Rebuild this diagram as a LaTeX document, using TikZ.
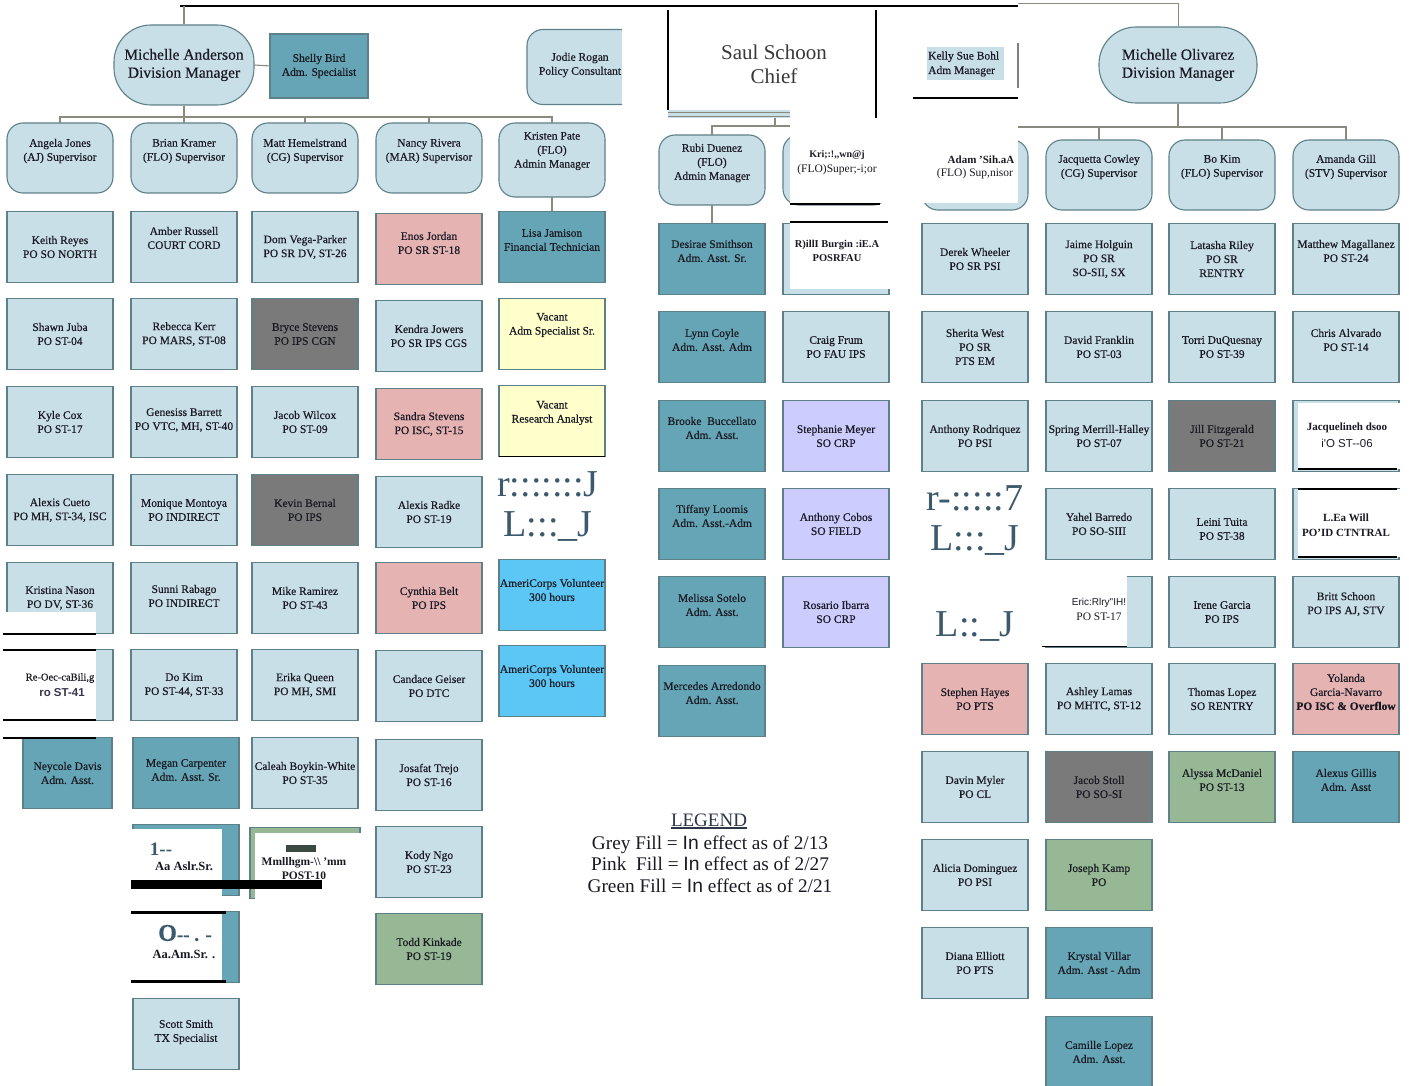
\documentclass[tikz,border=0pt]{standalone}
\usepackage{fontspec}
\setmainfont{Liberation Serif}
\newfontfamily\sansf{Liberation Sans}
\newfontfamily\boxf[FakeBold=0.45]{Liberation Serif}
\definecolor{lblue}{HTML}{C9DFE7}
\definecolor{bord}{HTML}{5E8189}
\definecolor{tealf}{HTML}{65A5B5}
\definecolor{greyf}{HTML}{7A7A7A}
\definecolor{pinkf}{HTML}{E6B3B3}
\definecolor{greenf}{HTML}{96B894}
\definecolor{yellowf}{HTML}{FFFFCC}
\definecolor{brightb}{HTML}{5CC6F5}
\definecolor{lavf}{HTML}{CCCCFF}
\definecolor{garbc}{HTML}{3C5A6E}
\definecolor{txtc}{HTML}{1A1A24}
\definecolor{connc}{HTML}{8A8A7E}
\definecolor{legc}{HTML}{2C3848}
\definecolor{darkbar}{HTML}{3A4A40}
\definecolor{purpt}{HTML}{3A3450}
\tikzset{
 bx/.style={draw=bord, line width=1.1pt, minimum width=106pt, minimum height=71pt, inner sep=0pt, outer sep=0pt},
 bLB/.style={bx, fill=lblue},
 bTL/.style={bx, fill=tealf},
 bGR/.style={bx, fill=greyf},
 bPK/.style={bx, fill=pinkf},
 bGN/.style={bx, fill=greenf},
 bYL/.style={bx, fill=yellowf},
 bBB/.style={bx, fill=brightb},
 bLV/.style={bx, fill=lavf},
 sup/.style={bx, fill=lblue, minimum height=70pt, rounded corners=16pt},
 dmgr/.style={draw=bord, line width=1.1pt, fill=lblue, rounded corners=37pt, align=center, font=\boxf\fontsize{15.5}{18}\selectfont, text=txtc, inner sep=0pt},
 txt/.style={align=center, font=\boxf\fontsize{11.5}{14}\selectfont, text=txtc, inner sep=0pt},
 oddtxt/.style={txt, font=\bfseries\fontsize{10.5}{14}\selectfont},
 conn/.style={draw=connc, line width=1.1pt},
 blk/.style={draw=black, line width=1.6pt},
 garb/.style={text=garbc, font=\fontsize{38}{30}\selectfont, inner sep=0pt, text height=20pt, text depth=0pt}
}
\newcommand\obox[6][0]{%
  \node[#2] (#3) at (#4,#5) {};
  \node[txt] (#3-t) at ({#4},{#5+(#1)}) {#6};}
\begin{document}
\begin{tikzpicture}[x=1pt,y=-1pt]
\useasboundingbox (0,0) rectangle (1409,1086);
\fill[white] (0,0) rectangle (1409,1086);

% ---------- top lines
\coordinate (topL) at (180,6);
\coordinate (topM) at (1018,6);
\coordinate (topR) at (1018,3);
\draw[line width=2.2pt] (topL) -- (topM);

% ---------- left division
\node[dmgr, minimum width=140pt, minimum height=80pt] (ma) at (184,65) {Michelle Anderson\\Division Manager};
\draw[conn] (ma.north) -- (ma.north |- topL);
\obox{bTL, minimum width=98pt, minimum height=64pt}{sb}{319}{66}{Shelly Bird\\Adm. Specialist}
\draw[conn] (ma.east) -- (sb.west);

\begin{scope}
\clip (520,20) rectangle (622,112);
\obox{sup, minimum width=130pt, minimum height=75pt}{jr}{592}{67}{}
\node[txt] (jr-t2) at (580,65) {Jodie Rogan\\Policy Consultant};
\end{scope}

\obox[-7]{sup}{aj}{60}{158}{Angela Jones\\(AJ) Supervisor}
\obox[-7]{sup}{bk}{184}{158}{Brian Kramer\\(FLO) Supervisor}
\obox[-7]{sup}{mh}{305}{158}{Matt Hemelstrand\\(CG) Supervisor}
\obox[-7]{sup}{nr}{429}{158}{Nancy Rivera\\(MAR) Supervisor}
\obox[-9]{sup, minimum height=74pt}{kp}{552}{160}{Kristen Pate\\(FLO)\\Admin Manager}
\coordinate (busL) at (184,117);
\draw[conn] (ma.south) -- (busL);
\draw[conn] (aj.north) -- (aj.north |- busL) -- (kp.north |- busL) -- (kp.north);
\foreach \n in {bk,mh,nr} \draw[conn] (\n.north) -- (\n.north |- busL);

% column 1
\obox{bLB}{kre}{60}{247}{Keith Reyes\\PO SO NORTH}
\obox{bLB}{sj}{60}{334}{Shawn Juba\\PO ST-04}
\obox{bLB}{kc}{60}{422}{Kyle Cox\\PO ST-17}
\obox{bLB}{acu}{60}{510}{Alexis Cueto\\PO MH, ST-34, ISC}
\obox{bLB}{kn}{60}{598}{Kristina Nason\\PO DV, ST-36}
\fill[white] (3,612) rectangle (96,634);
\draw[blk, line width=1.3pt] (3,634) -- (96,634);
\node[bLB] (rob) at (60,685) {};
\fill[white] (3,650) rectangle (96,721);
\draw[blk, line width=1.3pt] (3,650) -- (96,650) (3,720) -- (96,720);
\node[txt, font=\boxf\fontsize{10.5}{14}\selectfont] (rob-t1) at (60,678) {Re-Oec-caBili,g};
\node[txt, font=\sansf\bfseries\fontsize{11.5}{14}\selectfont, text=purpt] (rob-t2) at (62,693) {ro ST-41};
\obox{bTL, minimum width=89pt}{nd}{67.5}{773}{Neycole Davis\\Adm. Asst.}
\draw[blk, line width=2.6pt] (3,738) -- (96,738);

% column 2
\obox[-9]{bLB}{ar}{184}{247}{Amber Russell\\COURT CORD}
\obox{bLB}{rk}{184}{334}{Rebecca Kerr\\PO MARS, ST-08}
\obox[-2]{bLB}{gb}{184}{422}{Genesiss Barrett\\PO VTC, MH, ST-40}
\obox{bLB}{mmo}{184}{510}{Monique Montoya\\PO INDIRECT}
\obox[-2]{bLB}{sra}{184}{598}{Sunni Rabago\\PO INDIRECT}
\obox{bLB}{dk}{184}{685}{Do Kim\\PO ST-44, ST-33}
\obox[-3]{bTL}{mc}{186}{773}{Megan Carpenter\\Adm. Asst. Sr.}
\node[bTL] (aa1) at (186,860) {};
\fill[white] (130,829) rectangle (222,896);
\node[txt, font=\bfseries\fontsize{19}{19}\selectfont, text=garbc] (aa1-t1) at (161,849) {1-{}-};
\node[oddtxt, font=\bfseries\fontsize{12.5}{14}\selectfont] (aa1-t2) at (184,866) {Aa Aslr.Sr.};
\node[bTL] (aa2) at (186,947) {};
\fill[white] (130,912) rectangle (222,982);
\draw[blk, line width=3pt] (131,912) -- (226,912) (131,981) -- (226,981);
\node[txt, text=garbc] (aa2-t1) at (185,933) {{\bfseries\fontsize{24}{24}\selectfont O}{\bfseries\fontsize{19}{19}\selectfont -{}- . -}};
\node[oddtxt, font=\bfseries\fontsize{12.5}{14}\selectfont] (aa2-t2) at (184,954) {Aa.Am.Sr. .};
\obox[-2]{bLB}{ssm}{186}{1034}{Scott Smith\\TX Specialist}

% column 3
\obox{bLB}{dv}{305}{247}{Dom Vega-Parker\\PO SR DV, ST-26}
\obox{bGR}{bst}{305}{334}{Bryce Stevens\\PO IPS CGN}
\obox{bLB}{jw}{305}{422}{Jacob Wilcox\\PO ST-09}
\obox{bGR}{kbe}{305}{510}{Kevin Bernal\\PO IPS}
\obox{bLB}{mr}{305}{598}{Mike Ramirez\\PO ST-43}
\obox{bLB}{eq}{305}{685}{Erika Queen\\PO MH, SMI}
\obox{bLB}{cbw}{305}{773}{Caleah Boykin-White\\PO ST-35}
\node[bGN, minimum width=110pt] (mpo) at (305,863) {};
\fill[white] (255,833) rectangle (362,900);
\fill[darkbar] (286,845) rectangle (316,852);
\node[oddtxt, font=\bfseries\fontsize{11.5}{14}\selectfont] (mpo-t) at (304,869) {Mmllhgm-\textbackslash\textbackslash{} 'mm\\POST-10};
\fill[black] (131,880) rectangle (322,889);

% column 4
\obox[-6]{bPK}{ej}{429}{249}{Enos Jordan\\PO SR ST-18}
\obox{bLB}{kj}{429}{336}{Kendra Jowers\\PO SR IPS CGS}
\obox{bPK}{sst}{429}{424}{Sandra Stevens\\PO ISC, ST-15}
\obox{bLB}{ard}{429}{512}{Alexis Radke\\PO ST-19}
\obox{bPK}{cyb}{429}{598}{Cynthia Belt\\PO IPS}
\obox{bLB}{cge}{429}{686}{Candace Geiser\\PO DTC}
\obox{bLB}{jt}{429}{775}{Josafat Trejo\\PO ST-16}
\obox{bLB}{kng}{429}{862}{Kody Ngo\\PO ST-23}
\obox{bGN}{tk}{429}{949}{Todd Kinkade\\PO ST-19}

% column 5
\obox[-7]{bTL}{lj}{552}{247}{Lisa Jamison\\Financial Technician}
\draw[conn] (kp.south) -- (lj.north);
\obox[-9]{bYL}{va1}{552}{334}{Vacant\\Adm Specialist Sr.}
\obox[-8]{bYL}{va2}{552}{421}{Vacant\\Research Analyst}
\draw[blk, line width=1.5pt] (va2.south west) -- (va2.south east);
\node[garb] (g1a) at (548,486) {r:::::::J};
\node[garb] (g1b) at (548,526) {L:::\_J};
\obox[-5]{bBB}{acv1}{552}{595}{AmeriCorps Volunteer\\300 hours}
\obox[-5]{bBB}{acv2}{552}{681}{AmeriCorps Volunteer\\300 hours}

% ---------- chief
\node[align=center, font=\fontsize{21}{24}\selectfont, text=black!78] (ss) at (774,64) {Saul Schoon\\Chief};
\draw[line width=2pt] (668,10) -- (668,110);
\draw[line width=2pt] (876,10) -- (876,118);
\fill[lblue] (668,110) rectangle (790,118);
\draw[conn, line width=0.9pt] (668,112) -- (790,112) (668,116) -- (790,116);
\coordinate (busM) at (775,126);
\obox[-7]{sup}{ru}{712}{170}{Rubi Duenez\\(FLO)\\Admin Manager}
\draw[conn] (775,118) -- (busM) -| (ru.north);
\draw[conn] (busM) -- (790,126);
\node[sup] (kri) at (836,170) {};
\fill[white] (790,119) rectangle (895,203);
\draw[blk, line width=1.3pt] (790,204) -- (880,204);
\node[oddtxt, font=\bfseries\fontsize{10}{14}\selectfont] (kri-t1) at (837,155) {Kri;:!,{},wn@j};
\node[txt, font=\fontsize{11.5}{14}\selectfont] (kri-t2) at (837,170) {(FLO)Super;-i;or};

\obox[-8]{bTL}{ds}{712}{259}{Desirae Smithson\\Adm. Asst. Sr.}
\draw[conn] (ru.south) -- (ds.north);
\obox[-7]{bTL}{lc}{712}{347}{Lynn Coyle\\Adm. Asst. Adm}
\obox[-8]{bTL}{bbu}{712}{436}{Brooke\ \ Buccellato\\Adm. Asst.}
\obox[-8]{bTL}{tlo}{712}{524}{Tiffany Loomis\\Adm. Asst.-Adm}
\obox[-7]{bTL}{mso}{712}{612}{Melissa Sotelo\\Adm. Asst.}
\obox[-8]{bTL}{mar}{712}{701}{Mercedes Arredondo\\Adm. Asst.}

\node[bLB] (rbu) at (836,259) {};
\fill[white] (790,221) rectangle (892,289);
\draw[blk, line width=1.3pt] (790,222) -- (888,222);
\node[oddtxt] (rbu-t) at (837,251) {R)illI Burgin :iE.A\\POSRFAU};
\obox{bLB}{cf}{836}{347}{Craig Frum\\PO FAU IPS}
\obox{bLV}{sme}{836}{436}{Stephanie Meyer\\SO CRP}
\obox{bLV}{aco}{836}{524}{Anthony Cobos\\SO FIELD}
\obox{bLV}{ri}{836}{612}{Rosario Ibarra\\SO CRP}

% ---------- Kelly Sue Bohl
\node[fill=lblue, minimum width=77pt, minimum height=33pt, inner sep=0pt] (kbg) at (965,64) {};
\node[txt, align=left, anchor=west, font=\boxf\fontsize{11.5}{14.5}\selectfont] (kbt) at (928,64) {Kelly Sue Bohl\\Adm Manager};
\draw[draw=gray, line width=1.2pt] (1018,43) -- (1018,88);
\draw[blk, line width=1.4pt] (913,98) -- (1018,98);

% ---------- right division
\node[dmgr, minimum width=158pt, minimum height=76pt] (mo) at (1178,65) {Michelle Olivarez\\Division Manager};
\draw[conn, line width=0.9pt] (topR) -| (mo.north);
\coordinate (busR) at (1178,127);
\obox[-8]{sup}{jc}{1099}{175}{Jacquetta Cowley\\(CG) Supervisor}
\obox[-8]{sup}{bo}{1222}{175}{Bo Kim\\(FLO) Supervisor}
\obox[-8]{sup}{ag}{1346}{175}{Amanda Gill\\(STV) Supervisor}
\node[sup] (ada) at (975,175) {};
\draw[conn] (mo.south) -- (busR);
\draw[conn] (ada.north) -- (ada.north |- busR) -- (ag.north |- busR) -- (ag.north);
\foreach \n in {jc,bo} \draw[conn] (\n.north) -- (\n.north |- busR);
\fill[white] (910,118) rectangle (1018,203);
\node[oddtxt, font=\bfseries\fontsize{11}{14}\selectfont] (ada-t1) at (981,160) {Adam 'Sih.aA};
\node[txt, font=\fontsize{11.5}{14}\selectfont] (ada-t2) at (975,174) {(FLO) Sup,nisor};

% right column 1
\obox{bLB}{dw}{975}{259}{Derek Wheeler\\PO SR PSI}
\obox{bLB}{sw}{975}{347}{Sherita West\\PO SR\\PTS EM}
\obox{bLB}{aro}{975}{436}{Anthony Rodriquez\\PO PSI}
\node[garb] (g2a) at (975,500) {r-:::::7};
\node[garb] (g2b) at (975,540) {L:::\_J};
\node[garb] (g3) at (975,626) {L::\_J};
\obox{bPK}{sh}{975}{699}{Stephen Hayes\\PO PTS}
\obox{bLB}{dmy}{975}{787}{Davin Myler\\PO CL}
\obox{bLB}{ado}{975}{875}{Alicia Dominguez\\PO PSI}
\obox{bLB}{de}{975}{963}{Diana Elliott\\PO PTS}

% right column 2
\obox{bLB}{jh}{1099}{259}{Jaime Holguin\\PO SR\\SO-SII, SX}
\obox{bLB}{dfr}{1099}{347}{David Franklin\\PO ST-03}
\obox{bLB}{smh}{1099}{436}{Spring Merrill-Halley\\PO ST-07}
\obox{bLB}{yba}{1099}{524}{Yahel Barredo\\PO SO-SIII}
\node[bLB] (eri) at (1099,612) {};
\fill[white] (1042,575) rectangle (1127,646);
\draw[blk, line width=1pt] (1042,646) -- (1127,646);
\node[txt, font=\sansf\fontsize{10}{14}\selectfont] (eri-t1) at (1099,603) {Eric:Rlry"IH!};
\node[txt, font=\fontsize{11.5}{14}\selectfont] (eri-t2) at (1099,617) {PO ST-17};
\obox{bLB}{ala}{1099}{699}{Ashley Lamas\\PO MHTC, ST-12}
\obox{bGR}{jst}{1099}{787}{Jacob Stoll\\PO SO-SI}
\obox{bGN}{jka}{1099}{875}{Joseph Kamp\\PO}
\obox{bTL}{kvi}{1099}{963}{Krystal Villar\\Adm. Asst - Adm}
\obox{bTL}{clo}{1099}{1052}{Camille Lopez\\Adm. Asst.}

% right column 3
\obox{bLB}{lri}{1222}{259}{Latasha Riley\\PO SR\\RENTRY}
\obox{bLB}{tdq}{1222}{347}{Torri DuQuesnay\\PO ST-39}
\obox{bGR}{jfi}{1222}{436}{Jill Fitzgerald\\PO ST-21}
\obox[5]{bLB}{ltu}{1222}{524}{Leini Tuita\\PO ST-38}
\obox{bLB}{iga}{1222}{612}{Irene Garcia\\PO IPS}
\obox{bLB}{tlp}{1222}{699}{Thomas Lopez\\SO RENTRY}
\obox[-7]{bGN}{amd}{1222}{787}{Alyssa McDaniel\\PO ST-13}

% right column 4
\obox[-8]{bLB}{mmg}{1346}{259}{Matthew Magallanez\\PO ST-24}
\obox[-7]{bLB}{cal}{1346}{347}{Chris Alvarado\\PO ST-14}
\node[bLB] (jdo) at (1346,436) {};
\fill[white] (1298,403) rectangle (1402,469);
\draw[blk, line width=1.4pt] (1298,469) -- (1397,469);
\node[oddtxt, font=\bfseries\fontsize{11}{14}\selectfont] (jdo-t1) at (1347,428) {Jacquelineh dsoo};
\node[txt, font=\sansf\fontsize{11.5}{14}\selectfont] (jdo-t2) at (1347,443) {i'O ST-{}-06};
\node[bLB] (lwi) at (1346,524) {};
\fill[white] (1298,489) rectangle (1402,557);
\draw[blk, line width=1.4pt] (1298,489) -- (1397,489) (1298,557) -- (1397,557);
\node[oddtxt, font=\bfseries\fontsize{11}{15}\selectfont] (lwi-t) at (1346,525) {L.Ea Will\\PO'ID CTNTRAL};
\obox[-8]{bLB}{bsc}{1346}{612}{Britt Schoon\\PO IPS AJ, STV}
\obox[-7]{bPK}{yga}{1346}{699}{Yolanda\\Garcia-Navarro\\{\bfseries PO ISC \& Overflow}}
\obox[-7]{bTL}{agi}{1346}{787}{Alexus Gillis\\Adm. Asst}

% ---------- legend
\node[font=\fontsize{19}{20}\selectfont, text=legc, inner sep=0pt] (leg) at (709,820) {LEGEND};
\draw[legc, line width=1.6pt] ([yshift=-1.5pt]leg.south west) -- ([yshift=-1.5pt]leg.south east);
\node[align=center, font=\fontsize{19.3}{21.5}\selectfont, text=txtc, inner sep=0pt] (legt) at (710,864) {Grey Fill = {\sansf In} effect as of 2/13\\Pink\ \ Fill = {\sansf In} effect as of 2/27\\Green Fill = {\sansf In} effect as of 2/21};
\end{tikzpicture}
\end{document}
